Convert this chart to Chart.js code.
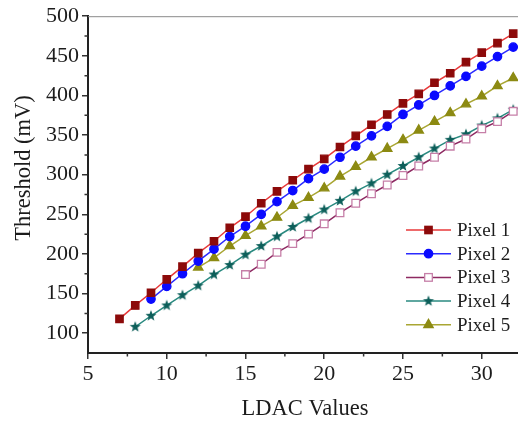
<!DOCTYPE html>
<html>
<head>
<meta charset="utf-8">
<script src="https://cdn.jsdelivr.net/npm/chart.js@4.4.0/dist/chart.umd.min.js"></script>
<style>
  html, body { margin: 0; padding: 0; background: #fff; overflow: hidden; }
  canvas { display: block; }
</style>
</head>
<body>
<canvas id="thresholdChart" width="528" height="423"></canvas>
<script>
// LDAC setting on the x axis, threshold in mV for each pixel
const ldacValues = [7, 8, 9, 10, 11, 12, 13, 14, 15, 16, 17, 18, 19, 20, 21, 22, 23, 24, 25, 26, 27, 28, 29, 30, 31, 32]
const pixel1 = [118, 135, 151, 168, 184, 201, 216, 233, 247, 264, 279, 293, 307, 320, 335, 349, 363, 376, 390, 402, 416, 428, 442, 454, 466, 478]
const pixel2 = [null, null, 143, 159, 175, 191, 206, 222, 235, 250, 266, 280, 295, 307, 322, 336, 349, 361, 376, 388, 400, 412, 424, 437, 449, 461]
const pixel3 = [null, null, null, null, null, null, null, null, 174, 187, 202, 213, 225, 238, 252, 264, 276, 287, 299, 311, 322, 336, 345, 358, 367, 380]
const pixel4 = [null, 108, 122, 135, 148, 160, 174, 186, 199, 210, 222, 234, 245, 256, 267, 279, 289, 300, 311, 322, 333, 344, 351, 362, 371, 382]
const pixel5 = [null, null, null, null, null, 183, 195, 210, 223, 235, 246, 261, 271, 283, 298, 310, 322, 333, 344, 356, 367, 378, 389, 399, 412, 422]

const xTicks = [5, 10, 15, 20, 25, 30]
const yTicks = [100, 150, 200, 250, 300, 350, 400, 450, 500]
const seriesNames = ['Pixel 1', 'Pixel 2', 'Pixel 3', 'Pixel 4', 'Pixel 5']

const FONT = "'Liberation Serif', 'Times New Roman', serif"
const INK = '#1c1c1c'

// filled five point star, used as a point image
function makeStar(color, outer, inner) {
  const size = Math.ceil(outer * 2) + 2
  const c = document.createElement('canvas')
  c.width = size
  c.height = size
  const g = c.getContext('2d')
  g.beginPath()
  for (let i = 0; i < 10; i++) {
    const r = i % 2 === 0 ? outer : inner
    const a = -Math.PI / 2 + i * Math.PI / 5
    const px = size / 2 + r * Math.cos(a)
    const py = size / 2 + r * Math.sin(a)
    if (i === 0) g.moveTo(px, py)
    else g.lineTo(px, py)
  }
  g.closePath()
  g.fillStyle = color
  g.fill()
  return c
}

const starImg = makeStar('#0d5f5a', 5.8, 2.4)

function toPoints(values) {
  return values.map((v, i) => ({ x: ldacValues[i], y: v }))
}

const styles = [
  { line: '#e8393a', fill: '#8c0a0a', border: '#8c0a0a', shape: 'rect', radius: 5.2 },
  { line: '#2b2bff', fill: '#0a0aff', border: '#0a0aff', shape: 'circle', radius: 4.2 },
  { line: '#8e2a62', fill: '#ffffff', border: '#c67fa8', shape: 'rect', radius: 5.4 },
  { line: '#2a8a80', fill: '#0d5f5a', border: '#0d5f5a', shape: starImg, radius: 5.6 },
  { line: '#a9a633', fill: '#8c8a12', border: '#8c8a12', shape: 'triangle', radius: 5.4 },
]

const seriesValues = [pixel1, pixel2, pixel3, pixel4, pixel5]

const datasets = seriesValues.map((vals, i) => ({
  label: seriesNames[i],
  data: toPoints(vals),
  borderColor: styles[i].line,
  borderWidth: 1.5,
  backgroundColor: styles[i].fill,
  pointBackgroundColor: styles[i].fill,
  pointBorderColor: styles[i].border,
  pointBorderWidth: 1.3,
  pointStyle: styles[i].shape,
  pointRadius: styles[i].radius,
  pointHoverRadius: styles[i].radius,
  spanGaps: false,
  tension: 0,
}))

function drawMarker(ctx, st, x, y) {
  ctx.save()
  ctx.fillStyle = st.fill
  ctx.strokeStyle = st.border
  ctx.lineWidth = 1.3
  if (st.shape === 'rect') {
    const s = st.radius * Math.SQRT1_2
    ctx.fillRect(x - s, y - s, 2 * s, 2 * s)
    ctx.strokeRect(x - s, y - s, 2 * s, 2 * s)
  } else if (st.shape === 'circle') {
    ctx.beginPath()
    ctx.arc(x, y, st.radius, 0, Math.PI * 2)
    ctx.fill()
    ctx.stroke()
  } else if (st.shape === 'triangle') {
    const r = st.radius
    ctx.beginPath()
    for (let k = 0; k < 3; k++) {
      const a = k * 2 * Math.PI / 3
      const px = x + Math.sin(a) * r
      const py = y - Math.cos(a) * r
      if (k === 0) ctx.moveTo(px, py)
      else ctx.lineTo(px, py)
    }
    ctx.closePath()
    ctx.fill()
    ctx.stroke()
  } else {
    ctx.drawImage(st.shape, x - st.shape.width / 2, y - st.shape.height / 2)
  }
  ctx.restore()
}

// frame extras: top border, minor ticks, axis titles and the legend box
const decorations = {
  id: 'decorations',
  afterDraw(chart) {
    const { ctx, chartArea } = chart
    const xs = chart.scales.x
    const ys = chart.scales.y
    ctx.save()

    ctx.strokeStyle = '#8a8a8a'
    ctx.lineWidth = 1
    ctx.beginPath()
    ctx.moveTo(chartArea.left, chartArea.top + 0.5)
    ctx.lineTo(chartArea.right, chartArea.top + 0.5)
    ctx.stroke()

    ctx.strokeStyle = '#333'
    ctx.lineWidth = 1.5
    ctx.beginPath()
    for (let v = 7.5; v <= 32.5; v += 5) {
      const px = xs.getPixelForValue(v)
      ctx.moveTo(px, chartArea.bottom)
      ctx.lineTo(px, chartArea.bottom + 3.5)
    }
    for (let v = 125; v < 500; v += 50) {
      const py = ys.getPixelForValue(v)
      ctx.moveTo(chartArea.left, py)
      ctx.lineTo(chartArea.left - 3.5, py)
    }
    ctx.stroke()

    ctx.fillStyle = INK
    ctx.font = '22.5px ' + FONT
    ctx.textAlign = 'center'
    ctx.textBaseline = 'middle'
    ctx.fillText('LDAC Values', 305, 409)
    ctx.save()
    ctx.translate(24, 168)
    ctx.rotate(-Math.PI / 2)
    ctx.fillText('Threshold (mV)', 0, 0)
    ctx.restore()

    ctx.font = '19px ' + FONT
    ctx.textAlign = 'left'
    seriesNames.forEach((name, i) => {
      const ly = 230 + i * 23.7
      ctx.strokeStyle = styles[i].line
      ctx.lineWidth = 1.5
      ctx.beginPath()
      ctx.moveTo(406, ly)
      ctx.lineTo(451, ly)
      ctx.stroke()
      drawMarker(ctx, styles[i], 428.5, ly)
      ctx.fillStyle = INK
      ctx.fillText(name, 457, ly + 1)
    })
    ctx.restore()
  }
}

const ctx = document.getElementById('thresholdChart').getContext('2d')
new Chart(ctx, {
  type: 'line',
  data: { datasets },
  plugins: [decorations],
  options: {
    responsive: false,
    animation: false,
    devicePixelRatio: 1,
    layout: { padding: { top: 13, right: 0, bottom: 0, left: 0 } },
    plugins: {
      legend: { display: false },
      tooltip: { enabled: false },
    },
    scales: {
      x: {
        type: 'linear',
        min: 5,
        max: 32.5,
        afterFit: (scale) => { scale.height = 70 },
        afterBuildTicks: (scale) => { scale.ticks = xTicks.map((v) => ({ value: v })) },
        border: { display: true, color: '#222', width: 2 },
        grid: { drawOnChartArea: false, tickLength: 6, color: '#333', lineWidth: 1.5 },
        ticks: {
          color: INK,
          padding: 2,
          maxRotation: 0,
          font: { family: FONT, size: 22 },
        },
      },
      y: {
        type: 'linear',
        min: 75,
        max: 500,
        afterFit: (scale) => { scale.width = 88 },
        afterBuildTicks: (scale) => { scale.ticks = yTicks.map((v) => ({ value: v })) },
        border: { display: true, color: '#222', width: 2 },
        grid: { drawOnChartArea: false, tickLength: 6, color: '#333', lineWidth: 1.5 },
        ticks: {
          color: INK,
          padding: 3,
          font: { family: FONT, size: 22 },
        },
      },
    },
  },
})
</script>
</body>
</html>
